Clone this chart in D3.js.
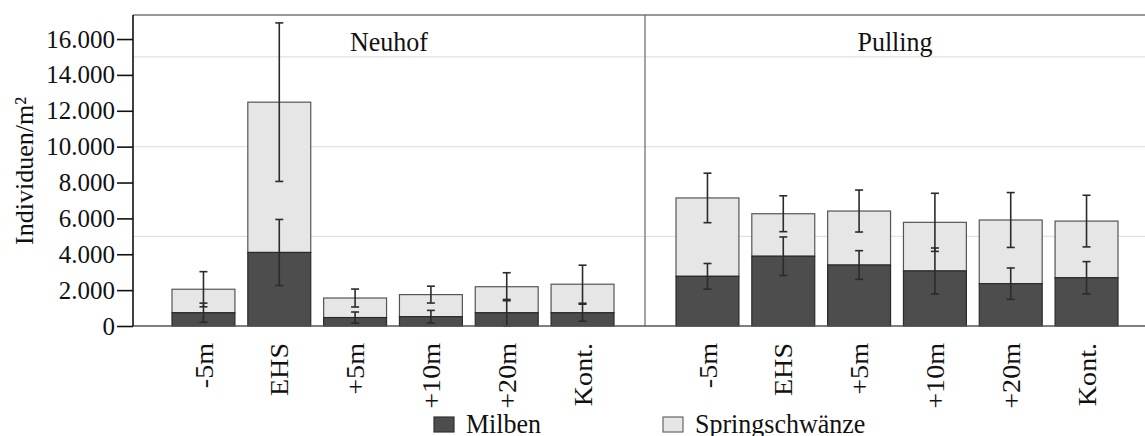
<!DOCTYPE html>
<html>
<head>
<meta charset="utf-8">
<script src="https://cdn.jsdelivr.net/npm/d3@7"></script>
<style>
  html, body { margin: 0; padding: 0; background: #fff; }
  svg { display: block; }
</style>
</head>
<body>
<svg id="chart" width="1145" height="436" font-family="'Liberation Serif', 'DejaVu Serif', serif"></svg>
<script>
// ---- data ----
const categories = ["-5m", "EHS", "+5m", "+10m", "+20m", "Kont."];
const sites = ["Neuhof", "Pulling"];
const seriesNames = ["Milben", "Springschwänze"];

const milbenNeuhof   = [740, 4100, 470, 520, 740, 740];
const springNeuhof   = [1310, 8380, 1090, 1230, 1450, 1590];
const milbenSdNeuhof = [535, 1840, 310, 350, 740, 475];
const springSdNeuhof = [980, 4420, 500, 470, 780, 1060];

const milbenPulling   = [2770, 3890, 3400, 3070, 2360, 2690];
const springPulling   = [4370, 2370, 3010, 2710, 3550, 3160];
const milbenSdPulling = [715, 1075, 800, 1280, 875, 900];
const springSdPulling = [1380, 1000, 1170, 1620, 1530, 1440];

const yTicks = [0, 2000, 4000, 6000, 8000, 10000, 12000, 14000, 16000];
const yGrid = [5000, 10000, 15000];
const yMax = 17340;

// ---- layout ----
const FONT = "Liberation Serif";
const SY = 1.08; // vertical stretch of the reference's lettering
const svg = d3.select("#chart");
const plotLeft = 133, plotRight = 1145, plotTop = 15, plotBottom = 326, divider = 645;
const panels = [
  { name: sites[0], x0: plotLeft, x1: divider, barRange: [172, 614],
    milben: milbenNeuhof, spring: springNeuhof, mSd: milbenSdNeuhof, sSd: springSdNeuhof },
  { name: sites[1], x0: divider, x1: plotRight, barRange: [676, 1118],
    milben: milbenPulling, spring: springPulling, mSd: milbenSdPulling, sSd: springSdPulling }
];
const colMilben = "#4d4d4d", colSpring = "#e6e6e6";

const y = d3.scaleLinear().domain([0, yMax]).range([plotBottom, plotTop]);

// gridlines
svg.append("g").selectAll("line").data(yGrid).join("line")
  .attr("x1", plotLeft).attr("x2", plotRight)
  .attr("y1", d => y(d)).attr("y2", d => y(d))
  .attr("stroke", "#e2e2e2").attr("stroke-width", 1.2);

// frame: top line, divider
svg.append("line").attr("x1", plotLeft).attr("x2", plotRight).attr("y1", plotTop).attr("y2", plotTop)
  .attr("stroke", "#777").attr("stroke-width", 1.5);
svg.append("line").attr("x1", divider).attr("x2", divider).attr("y1", plotTop).attr("y2", plotBottom)
  .attr("stroke", "#666").attr("stroke-width", 1.2);

panels.forEach(p => {
  const x = d3.scaleBand().domain(categories).range(p.barRange).paddingInner(0.17).paddingOuter(0);
  const g = svg.append("g");
  const rows = categories.map((c, i) => ({ c, m: p.milben[i], s: p.spring[i], ms: p.mSd[i], ss: p.sSd[i] }));

  g.selectAll("rect.spring").data(rows).join("rect").attr("class", "spring")
    .attr("x", d => x(d.c)).attr("width", x.bandwidth())
    .attr("y", d => y(d.m + d.s)).attr("height", d => y(d.m) - y(d.m + d.s))
    .attr("fill", colSpring).attr("stroke", "#555").attr("stroke-width", 1.2);
  g.selectAll("rect.milben").data(rows).join("rect").attr("class", "milben")
    .attr("x", d => x(d.c)).attr("width", x.bandwidth())
    .attr("y", d => y(d.m)).attr("height", d => y(0) - y(d.m))
    .attr("fill", colMilben).attr("stroke", "#2a2a2a").attr("stroke-width", 1.2);

  const errs = [];
  rows.forEach(d => {
    errs.push({ c: d.c, v: d.m + d.s, e: d.ss });
    errs.push({ c: d.c, v: d.m, e: d.ms });
  });
  const cx = d => x(d.c) + x.bandwidth() / 2;
  const eg = g.selectAll("g.err").data(errs).join("g").attr("class", "err")
    .attr("stroke", "#2b2b2b").attr("stroke-width", 1.6);
  eg.append("line").attr("x1", cx).attr("x2", cx)
    .attr("y1", d => y(d.v + d.e)).attr("y2", d => y(Math.max(0, d.v - d.e)));
  eg.append("line").attr("x1", d => cx(d) - 4).attr("x2", d => cx(d) + 4)
    .attr("y1", d => y(d.v + d.e)).attr("y2", d => y(d.v + d.e));
  eg.append("line").attr("x1", d => cx(d) - 4).attr("x2", d => cx(d) + 4)
    .attr("y1", d => y(Math.max(0, d.v - d.e))).attr("y2", d => y(Math.max(0, d.v - d.e)));

  svg.append("text").attr("transform", `translate(${(p.x0 + p.x1) / 2},51) scale(1,${SY})`)
    .attr("text-anchor", "middle").attr("font-family", FONT).attr("font-size", 26).attr("fill", "#111").text(p.name);

  svg.append("g").selectAll("text").data(categories).join("text")
    .attr("transform", d => `translate(${x(d) + x.bandwidth() / 2},343) scale(1,${SY}) rotate(-90)`)
    .attr("text-anchor", "end").attr("dy", "0.35em")
    .attr("font-family", FONT).attr("font-size", 26).attr("fill", "#111").text(d => d);
});

// bottom line
svg.append("line").attr("x1", plotLeft).attr("x2", plotRight).attr("y1", plotBottom).attr("y2", plotBottom)
  .attr("stroke", "#555").attr("stroke-width", 1.5);

// y axis
const fmt = d => d3.format(",")(d).replace(/,/g, ".");
const yAxis = d3.axisLeft(y).tickValues(yTicks).tickFormat(fmt).tickSize(16).tickPadding(2);
const ag = svg.append("g").attr("transform", `translate(${plotLeft},0)`).call(yAxis);
ag.attr("font-family", FONT);
ag.select(".domain").attr("stroke", "#111").attr("stroke-width", 1.6)
  .attr("d", `M0,${plotTop}V${plotBottom}`);
ag.selectAll(".tick line").attr("stroke", "#111").attr("stroke-width", 1.6);
ag.selectAll(".tick text").attr("font-size", 25).attr("font-family", FONT).attr("fill", "#111");

// y axis title
svg.append("text").attr("transform", `translate(24,171) rotate(-90)`)
  .attr("text-anchor", "middle").attr("dy", "0.35em")
  .attr("font-family", FONT).attr("font-size", 26).attr("fill", "#111")
  .text("Individuen/m²");

// legend
const legend = svg.append("g");
const legendItems = [
  { name: seriesNames[0], color: colMilben, stroke: "#333", x: 434 },
  { name: seriesNames[1], color: colSpring, stroke: "#666", x: 663 }
];
legendItems.forEach(it => {
  legend.append("rect").attr("x", it.x).attr("y", 417).attr("width", 20).attr("height", 15)
    .attr("fill", it.color).attr("stroke", it.stroke).attr("stroke-width", 1.2);
  legend.append("text").attr("transform", `translate(${it.x + 32},433) scale(1,${SY})`)
    .attr("font-family", FONT).attr("font-size", 26).attr("fill", "#111").text(it.name);
});
</script>
</body>
</html>
